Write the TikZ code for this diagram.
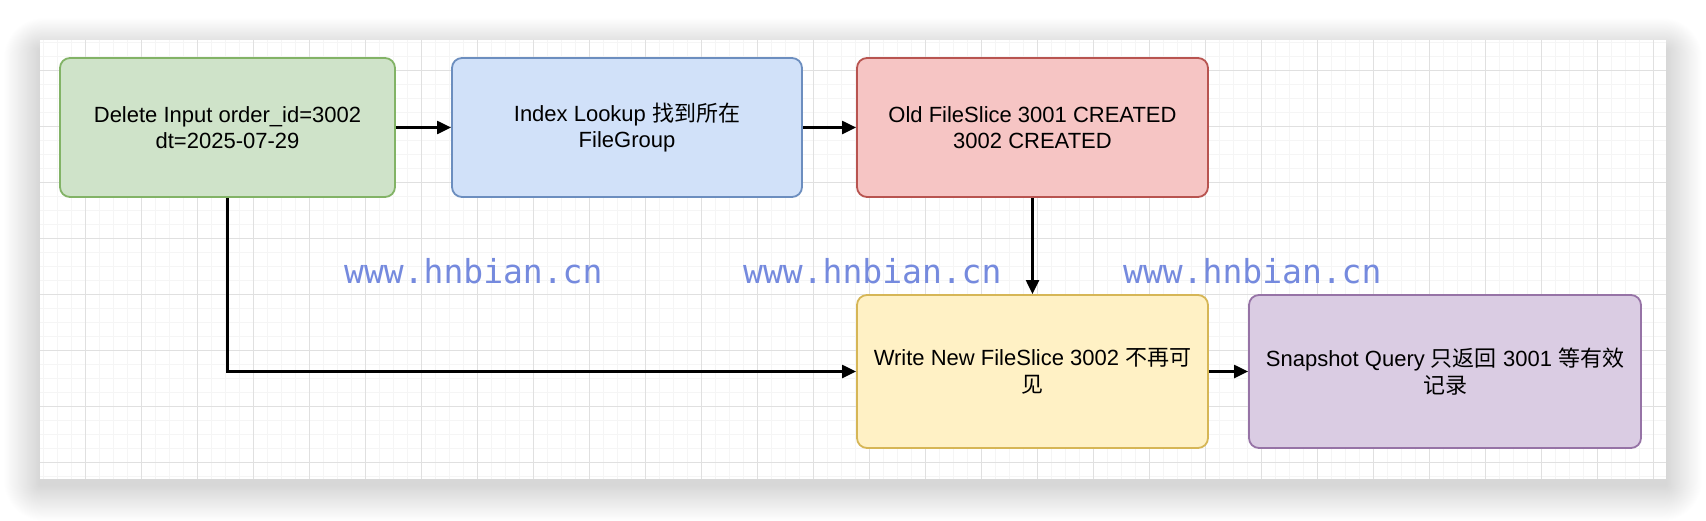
\documentclass[tikz,border=0pt]{standalone}
\usepackage{fontspec}
\setmainfont{Liberation Sans}
\newfontfamily\cjk{Noto Sans CJK SC}
\newfontfamily\wmfont{DejaVu Sans Mono}
\usetikzlibrary{arrows.meta}
\definecolor{gfill}{RGB}{207,227,201}\definecolor{gdraw}{HTML}{82B366}
\definecolor{bfill}{RGB}{209,225,249}\definecolor{bdraw}{HTML}{6C8EBF}
\definecolor{rfill}{RGB}{246,197,196}\definecolor{rdraw}{HTML}{B85450}
\definecolor{yfill}{RGB}{255,241,197}\definecolor{ydraw}{HTML}{D6B656}
\definecolor{pfill}{RGB}{218,204,227}\definecolor{pdraw}{HTML}{9673A6}
\definecolor{wmcol}{RGB}{117,138,222}
\tikzset{
  box/.style={rectangle, rounded corners=10pt, line width=1.8pt, align=center,
    inner sep=0pt, font=\fontsize{22}{26.5}\selectfont},
  conn/.style={line width=2.2pt, -{Triangle[length=14pt,width=13pt]}},
  minorline/.style={line width=0.9pt, black!4},
  majorline/.style={line width=0.9pt, black!12},
  wm/.style={text=wmcol, font=\wmfont\fontsize{33}{33}\selectfont, inner sep=0pt, anchor=base west}
}
\begin{document}
\begin{tikzpicture}[x=1pt,y=-1pt]
\useasboundingbox (0,0) rectangle (1706,520);
\fill[white] (0,0) rectangle (1706,520);
% soft shadow of the canvas
\foreach \k in {1,...,40} {
  \fill[black,opacity=0.0035,rounded corners={\k*1pt}] ({40-0.9*\k},{40-0.8*\k+10}) rectangle ({1666+0.9*\k},{479+0.9*\k+6});
}
\fill[white] (40,40) rectangle (1666,479);
\begin{scope}
\clip (40,40) rectangle (1666,479);
\foreach \i in {0,...,116} { \draw[minorline] ({43+14*\i},40) -- ({43+14*\i},479); }
\foreach \j in {0,...,31} { \draw[minorline] (40,{42.3+14*\j}) -- (1666,{42.3+14*\j}); }
\foreach \i in {0,...,28} { \draw[majorline] ({85+56*\i},40) -- ({85+56*\i},479); }
\foreach \j in {0,...,7} { \draw[majorline] (40,{70.3+56*\j}) -- (1666,{70.3+56*\j}); }
\end{scope}

\node[box, fill=gfill, draw=gdraw, minimum width=335pt, minimum height=139pt] (del) at (227.5,127.5)
  {Delete Input order\_id=3002\\dt=2025-07-29};
\node[box, fill=bfill, draw=bdraw, minimum width=350pt, minimum height=139pt] (idx) at (627,127.5)
  {Index Lookup {\cjk 找到所在}\\FileGroup};
\node[box, fill=rfill, draw=rdraw, minimum width=351pt, minimum height=139pt] (old) at (1032.5,127.5)
  {Old FileSlice 3001 CREATED\\3002 CREATED};
\node[box, fill=yfill, draw=ydraw, minimum width=351pt, minimum height=153pt] (new) at (1032.5,371.5)
  {Write New FileSlice 3002 {\cjk 不再可}\\{\cjk 见}};
\node[box, fill=pfill, draw=pdraw, minimum width=392pt, minimum height=153pt] (snap) at (1445,371.5)
  {Snapshot Query {\cjk 只返回} 3001 {\cjk 等有效}\\{\cjk 记录}};

\node[wm] (w1) at (344,283) {www.hnbian.cn};
\node[wm] (w2) at (743,283) {www.hnbian.cn};
\node[wm] (w3) at (1123,283) {www.hnbian.cn};

\draw[conn] (del.east) -- (idx.west);
\draw[conn] (idx.east) -- (old.west);
\draw[conn] (old.south) -- (new.north);
\draw[conn] (del.south) |- (new.west);
\draw[conn] (new.east) -- (snap.west);
\end{tikzpicture}
\end{document}
